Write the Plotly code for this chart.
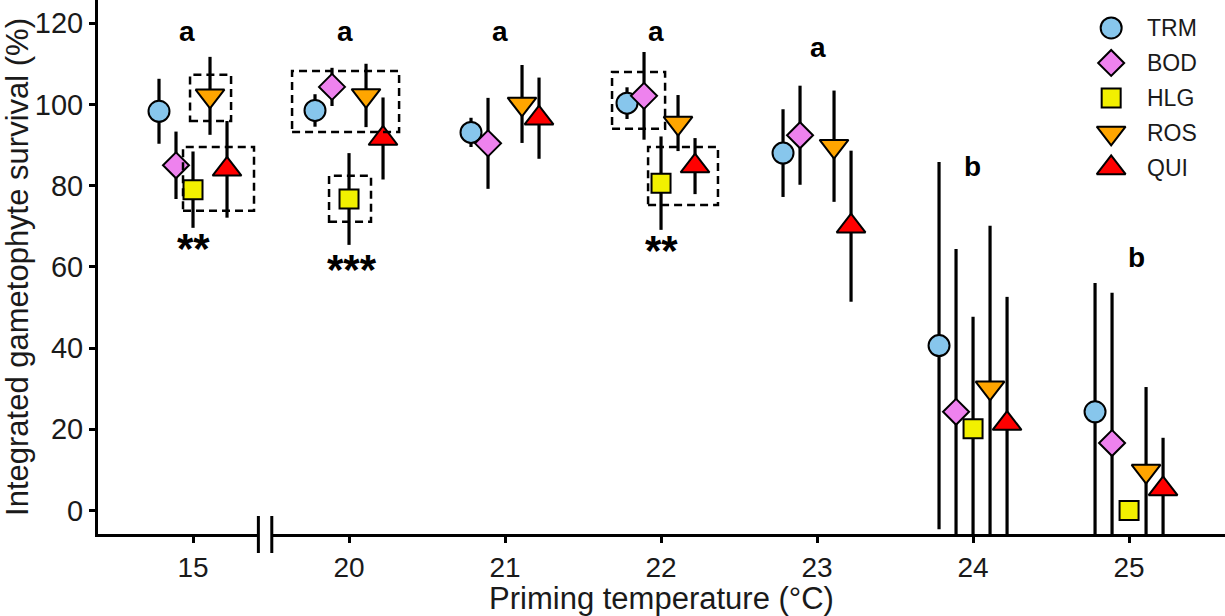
import plotly.graph_objects as go

# ---- data ----
temps = ["15", "20", "21", "22", "23", "24", "25"]
series = ["TRM", "BOD", "HLG", "ROS", "QUI"]

trm = [98.3, 98.5, 93.1, 100.3, 88.0, 40.6, 24.3]
trm_err = [8.0, 4.0, 3.6, 3.9, 10.8, 45.2, 31.7]
bod = [85.0, 104.3, 90.4, 102.1, 92.4, 24.3, 16.6]
bod_err = [8.3, 4.7, 11.2, 10.8, 12.2, 40.1, 37.0]
hlg = [79.0, 76.7, None, 80.6, None, 20.1, 0.0]
hlg_err = [9.4, 11.3, 0.0, 11.5, 0.0, 27.6, 0.0]
ros = [102.1, 102.2, 100.1, 95.4, 89.7, 30.2, 9.7]
ros_err = [9.6, 7.8, 9.6, 6.9, 13.7, 39.9, 20.7]
qui = [84.0, 91.6, 96.6, 84.8, 70.0, 21.4, 5.3]
qui_err = [11.9, 10.1, 10.0, 6.9, 18.6, 31.2, 12.6]

group_letters = ["a", "a", "a", "a", "a", "b", "b"]
letter_y = [118.0, 118.0, 118.0, 118.0, 114.1, 84.6, 62.4]
letter_dx = [-0.038, -0.026, -0.032, -0.032, 0.006, -0.006, 0.045]

star_labels = ["**", "***", "**"]
star_temps = ["15", "20", "22"]
star_y = [64.4, 59.3, 64.0]
star_dx = [0.006, 0.019, 0.0]

y_ticks = [0, 20, 40, 60, 80, 100, 120]

# dashed boxes: (temperature, x0 offset, x1 offset, y0, y1)
boxes = [
    ("15", -0.019, 0.244, 95.9, 107.3),
    ("15", -0.064, 0.391, 73.8, 89.5),
    ("20", -0.365, 0.321, 93.2, 108.2),
    ("20", -0.128, 0.141, 71.1, 82.4),
    ("22", -0.314, 0.026, 94.0, 108.0),
    ("22", -0.083, 0.365, 75.2, 89.5),
]

# ---- styles ----
values = [trm, bod, hlg, ros, qui]
errors = [trm_err, bod_err, hlg_err, ros_err, qui_err]
colors = ["#87C6EC", "#EE82EE", "#F2F000", "#FFA500", "#FF0000"]
symbols = ["circle", "diamond", "square", "triangle-down", "triangle-up"]
sizes = [21, 20, 19, 25, 25]
offsets = [-0.218, -0.109, 0.0, 0.109, 0.218]
FONT = "Liberation Sans, Arial, sans-serif"

x_range = [-0.609, 6.615]
y_range = [-5.79, 125.7]

fig = go.Figure()
xi = list(range(len(temps)))

# error bars first (drawn under all markers)
for k, name in enumerate(series):
    xs = [i + offsets[k] for i in xi]
    fig.add_trace(go.Scatter(
        x=xs, y=values[k], mode="markers",
        marker=dict(size=1, opacity=0),
        error_y=dict(type="data", array=errors[k], visible=True,
                     width=0, thickness=3.2, color="black"),
        showlegend=False, hoverinfo="skip"))

# points
for k, name in enumerate(series):
    xs = [i + offsets[k] for i in xi]
    fig.add_trace(go.Scatter(
        x=xs, y=values[k], mode="markers", name=name,
        marker=dict(symbol=symbols[k], size=sizes[k], color=colors[k],
                    line=dict(color="black", width=2)),
        showlegend=False))

# manual legend on an overlay axis pair spanning the plot area
leg_x = 0.899
leg_top = 0.9476
leg_step = 0.0655
for k, name in enumerate(series):
    yk = leg_top - k * leg_step
    fig.add_trace(go.Scatter(
        x=[leg_x], y=[yk], mode="markers", xaxis="x2", yaxis="y2",
        marker=dict(symbol=symbols[k], size=sizes[k], color=colors[k],
                    line=dict(color="black", width=2)),
        showlegend=False, hoverinfo="skip", cliponaxis=False))
    fig.add_annotation(x=0.929, y=yk, xref="paper", yref="paper",
                       text=name, showarrow=False, xanchor="left",
                       yanchor="middle",
                       font=dict(family=FONT, size=23, color="#1a1a1a"))

for i, t in enumerate(temps):
    fig.add_annotation(x=i + letter_dx[i], y=letter_y[i], text=group_letters[i],
                       showarrow=False, xanchor="center", yanchor="middle",
                       font=dict(family=FONT, size=28, color="black", weight="bold"))
for s, t, yv, dx in zip(star_labels, star_temps, star_y, star_dx):
    fig.add_annotation(x=temps.index(t) + dx, y=yv, text=s, showarrow=False,
                       xanchor="center", yanchor="middle",
                       font=dict(family=FONT, size=42, color="black", weight="bold"))

shapes = []
for t, dx0, dx1, y0, y1 in boxes:
    i = temps.index(t)
    shapes.append(dict(type="rect", xref="x", yref="y", x0=i + dx0, x1=i + dx1,
                       y0=y0, y1=y1, line=dict(color="black", width=2.5, dash="8px,5px"),
                       fillcolor="rgba(0,0,0,0)", layer="above"))

# axis break between 15 and 20
def to_paper(xv):
    return (xv - x_range[0]) / (x_range[1] - x_range[0])

brk_l, brk_r = to_paper(0.419), to_paper(0.505)
shapes.append(dict(type="rect", xref="paper", yref="paper", x0=brk_l, x1=brk_r,
                   y0=-0.012, y1=0.012, fillcolor="white", line=dict(width=0),
                   layer="above"))
for xb in (brk_l, brk_r):
    shapes.append(dict(type="line", xref="paper", yref="paper", x0=xb, x1=xb,
                       y0=0.0337, y1=-0.0356, line=dict(color="black", width=3),
                       layer="above"))

fig.update_layout(
    width=1225, height=616,
    margin=dict(l=98, r=0, t=0, b=82),
    paper_bgcolor="white", plot_bgcolor="white",
    shapes=shapes,
    font=dict(family=FONT, color="black"),
    xaxis=dict(range=x_range, tickmode="array", tickvals=xi, ticktext=temps,
               showgrid=False, zeroline=False, showline=True, linecolor="black",
               linewidth=3, ticks="outside", ticklen=6, tickwidth=3,
               tickcolor="black", tickfont=dict(family=FONT, size=28, color="#1a1a1a"),
               title=dict(text="Priming temperature (°C)", standoff=5,
                          font=dict(family=FONT, size=31, color="#1a1a1a")),
               automargin=False),
    yaxis=dict(range=y_range, tickmode="array", tickvals=y_ticks,
               showgrid=False, zeroline=False, showline=True, linecolor="black",
               linewidth=3, ticks="outside", ticklen=6, tickwidth=3,
               tickcolor="black", tickfont=dict(family=FONT, size=29, color="#1a1a1a"),
               title=dict(text="Integrated gametophyte survival (%)", standoff=2,
                          font=dict(family=FONT, size=31, color="#1a1a1a")),
               automargin=False),
    xaxis2=dict(range=[0, 1], overlaying="x", visible=False, fixedrange=True),
    yaxis2=dict(range=[0, 1], overlaying="y", visible=False, fixedrange=True),
    showlegend=False,
)

fig.write_html("out.html", config={"displayModeBar": False},
               post_script="document.body.style.margin='0px';document.body.style.overflow='hidden';")
